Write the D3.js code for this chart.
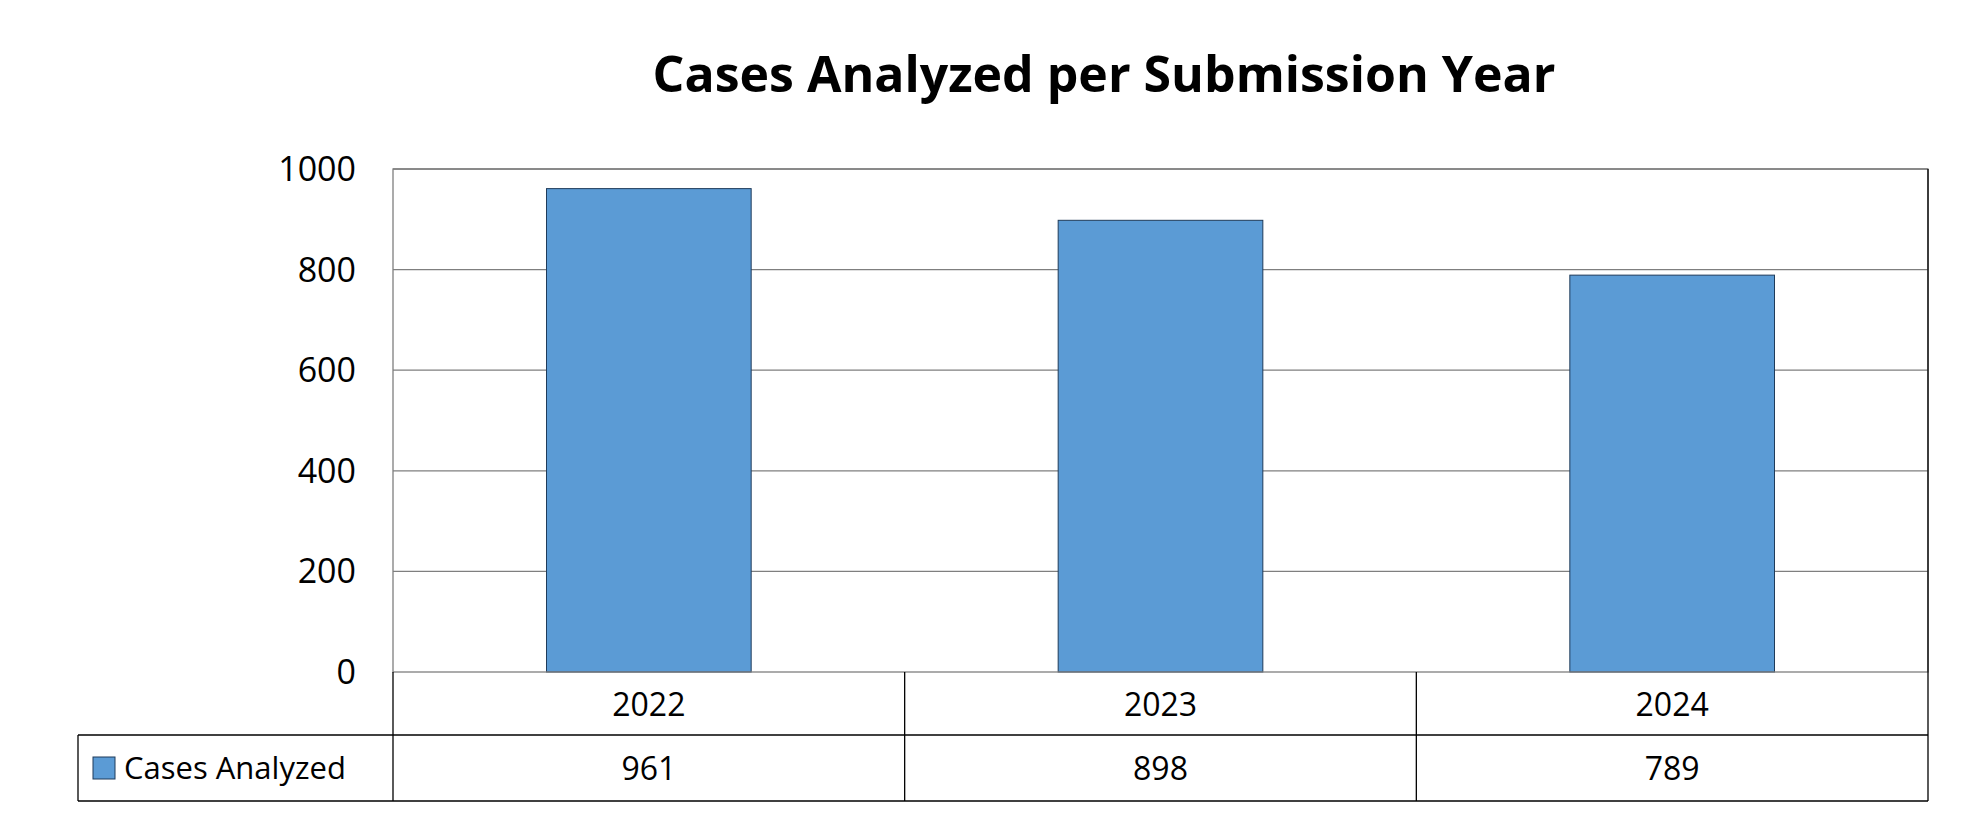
<!DOCTYPE html>
<html><head><meta charset="utf-8">
<script src="https://cdn.jsdelivr.net/npm/d3@7"></script>
<style>body{margin:0;background:#fff}</style></head>
<body><svg id="c" width="1980" height="825"></svg>
<script>
const years = ['2022', '2023', '2024'];
const cases = [961, 898, 789];
const yTicks = [0, 200, 400, 600, 800, 1000];
const seriesName = 'Cases Analyzed';

(function () {
const font = '"Open Sans", "Liberation Sans", sans-serif';
const svg = d3.select('#c');
const pLeft = 393, pRight = 1928, pTop = 169, pBottom = 672;
const row1 = 735, row2 = 801, legLeft = 78;

const x = d3.scaleBand().domain(years).range([pLeft, pRight]).paddingInner(0.6).paddingOuter(0.3);
const xCell = d3.scaleBand().domain(years).range([pLeft, pRight]);
const y = d3.scaleLinear().domain([0, 1000]).range([pBottom, pTop]);

svg.append('text').attr('x', 1104).attr('y', 92).attr('text-anchor', 'middle')
  .attr('font-family', font).attr('font-weight', 'bold').attr('font-size', 50)
  .text('Cases Analyzed per Submission Year');

// grid
svg.append('g').selectAll('line').data(yTicks.filter(d => d > 0)).join('line')
  .attr('x1', pLeft).attr('x2', pRight).attr('y1', d => y(d)).attr('y2', d => y(d))
  .attr('stroke', '#7f7f7f').attr('stroke-width', 1.3);

svg.append('g').selectAll('text').data(yTicks).join('text')
  .attr('x', 356).attr('y', d => y(d) + 12).attr('text-anchor', 'end')
  .attr('font-family', font).attr('font-size', 34).text(d => d);

// bars
svg.append('g').selectAll('rect').data(cases).join('rect')
  .attr('x', (d, i) => x(years[i])).attr('width', x.bandwidth())
  .attr('y', d => y(d)).attr('height', d => pBottom - y(d))
  .attr('fill', '#5b9bd5').attr('stroke', '#1f3b5a').attr('stroke-width', 1);

// plot border
svg.append('rect').attr('x', pLeft).attr('y', pTop).attr('width', pRight - pLeft).attr('height', pBottom - pTop)
  .attr('fill', 'none').attr('stroke', '#7f7f7f').attr('stroke-width', 1.3);
svg.append('line').attr('x1', pRight).attr('x2', pRight).attr('y1', pTop).attr('y2', row2).attr('stroke', '#000').attr('stroke-width', 1.3);

// data table
const t = svg.append('g').attr('stroke', '#000').attr('stroke-width', 1.3);
t.append('line').attr('x1', pLeft).attr('x2', pLeft).attr('y1', pBottom).attr('y2', row2);
t.append('line').attr('x1', legLeft).attr('x2', legLeft).attr('y1', row1).attr('y2', row2);
t.append('line').attr('x1', legLeft).attr('x2', pRight).attr('y1', row1).attr('y2', row1);
t.append('line').attr('x1', legLeft).attr('x2', pRight).attr('y1', row2).attr('y2', row2);
t.selectAll('.d').data(years.slice(1)).join('line')
  .attr('x1', d => xCell(d)).attr('x2', d => xCell(d)).attr('y1', pBottom).attr('y2', row2);

svg.append('g').selectAll('text').data(years).join('text')
  .attr('x', d => xCell(d) + xCell.bandwidth() / 2).attr('y', (pBottom + row1) / 2 + 12)
  .attr('text-anchor', 'middle').attr('font-family', font).attr('font-size', 32).text(d => d);
svg.append('g').selectAll('text').data(cases).join('text')
  .attr('x', (d, i) => xCell(years[i]) + xCell.bandwidth() / 2).attr('y', (row1 + row2) / 2 + 12)
  .attr('text-anchor', 'middle').attr('font-family', font).attr('font-size', 32).text(d => d);

svg.append('rect').attr('x', 93).attr('y', 757).attr('width', 22).attr('height', 22)
  .attr('fill', '#5b9bd5').attr('stroke', '#1f3b5a');
svg.append('text').attr('x', 124).attr('y', (row1 + row2) / 2 + 11)
  .attr('font-family', font).attr('font-size', 31).text(seriesName);
})();
</script></body></html>
